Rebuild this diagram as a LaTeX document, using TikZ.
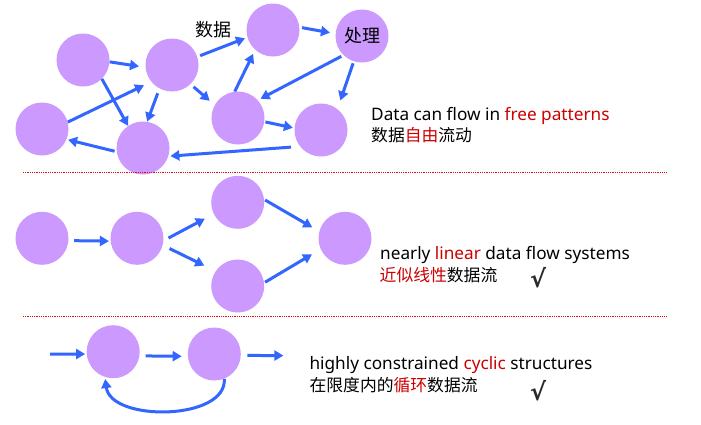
\documentclass[tikz,border=0pt]{standalone}
\usepackage{fontspec}
\setmainfont{Noto Sans}
\newfontfamily\cjk{Noto Sans CJK SC}
\newfontfamily\chkfont{DejaVu Sans Bold}
\usetikzlibrary{arrows.meta}
\definecolor{nodefill}{HTML}{CC99FF}
\definecolor{flowblue}{HTML}{3366FF}
\definecolor{txtred}{HTML}{CC0000}
\definecolor{seprred}{HTML}{E01010}
\definecolor{checkgray}{HTML}{2A2A2A}
\begin{document}
\begin{tikzpicture}[x=1pt,y=-1pt,
  ball/.style={circle, fill=nodefill, minimum size=53pt, inner sep=0pt},
  flow/.style={draw=flowblue, line width=3pt, -{Triangle[length=9pt,width=10pt]}},
  sep/.style={draw=seprred, line width=1.1pt, dash pattern=on 1pt off 0.8pt},
  entxt/.style={anchor=base west, inner sep=0pt, font=\fontsize{17.2}{20}\selectfont},
  cntxt/.style={anchor=base west, inner sep=0pt, font=\cjk\fontsize{16.8}{20}\selectfont},
  lbl/.style={inner sep=0pt, font=\cjk\fontsize{18}{20}\selectfont},
  checkmark/.style={inner sep=0pt, text=checkgray, font=\chkfont\fontsize{24}{26}\selectfont}]
\useasboundingbox (0,0) rectangle (701,424);
\fill[white] (0,0) rectangle (701,424);

% ---------- top: free patterns ----------
\node[ball] (A) at (83,60) {};
\node[ball] (B) at (172,65) {};
\node[ball] (C) at (273,30) {};
\node[ball, font=\cjk\fontsize{18}{20}\selectfont] (D) at (362,36) {处理};
\node[ball] (E) at (42,129) {};
\node[ball] (F) at (143,148) {};
\node[ball] (G) at (238,118) {};
\node[ball] (H) at (321,130) {};
\node[lbl] (datalbl) at (213.5,30) {数据};

\draw[flow, shorten >=6.5] (A.-4) -- (B.185);
\draw[flow] (A.-45) -- (F.124);
\draw[flow, shorten >=8] (E.15) -- (B.219);
\draw[flow, shorten <=5] (B.242) -- (F.81);
\draw[flow, shorten <=3, shorten >=2.5] (B.18) -- (C.196);
\draw[flow, shorten <=4, shorten >=6.5] (B.-46) -- (G.151);
\draw[flow, shorten >=4.5] (G.97) -- (C.228);
\draw[flow, shorten <=2.5, shorten >=5.5] (C.6) -- (D.175);
\draw[flow, shorten <=2.5, shorten >=3] (D.226) -- (G.42);
\draw[flow, shorten <=2, shorten >=9] (D.252) -- (H.52);
\draw[flow, shorten <=1, shorten >=1.5] (G.-8) -- (H.176);
\draw[flow, shorten <=2, shorten >=1.5] (F.188) -- (E.-23);
\draw[flow, shorten <=9, shorten >=2] (H.218) -- (F.-18);

\node[entxt] (t1) at (371,120) {Data can flow in \textcolor{txtred}{free patterns}};
\node[cntxt] (t1c) at (371,141.5) {数据\textcolor{txtred}{自由}流动};

\coordinate (s1a) at (23,172.5);
\coordinate (s1b) at (667,172.5);
\draw[sep] (s1a) -- (s1b);

% ---------- middle: nearly linear ----------
\node[ball] (M1) at (42,238.3) {};
\node[ball] (M2) at (137,238.3) {};
\node[ball] (M3) at (237.7,202.3) {};
\node[ball] (M4) at (237.7,286) {};
\node[ball] (M5) at (345,238.3) {};

\draw[flow, shorten <=5.5, shorten >=1.5] (M1.-5) -- (M2.186);
\draw[flow, shorten <=5.5, shorten >=10] (M2.-5) -- (M3.206);
\draw[flow, shorten <=7.5, shorten >=12.5] (M2.-15) -- (M4.146);
\draw[flow, shorten <=1, shorten >=8] (M3.6) -- (M5.165);
\draw[flow, shorten <=1, shorten >=10] (M4.7) -- (M5.204);

\node[entxt] (t2) at (380,259.3) {nearly \textcolor{txtred}{linear} data flow systems};
\node[cntxt] (t2c) at (379.5,281) {\textcolor{txtred}{近似线性}数据流};
\node[checkmark] (ck2) at (538,278) {√};

\coordinate (s2a) at (23,316.5);
\coordinate (s2b) at (667,316.5);
\draw[sep] (s2a) -- (s2b);

% ---------- bottom: cyclic ----------
\node[ball] (L1) at (113.2,351.7) {};
\node[ball] (L2) at (214.3,354) {};
\coordinate (in) at (50,354);
\coordinate (out) at (283.4,355.6);

\draw[flow, shorten >=1.5] (in) -- (L1.185);
\draw[flow, shorten <=6, shorten >=6] (L1.-9) -- (L2.185);
\draw[flow, shorten <=6.5] (L2.-3.5) -- (out);
\draw[flow, shorten >=2] (L2.-68) .. controls +(3,42) and +(6,45) .. (L1.252);

\node[entxt] (t3) at (309.4,369.3) {highly constrained \textcolor{txtred}{cyclic} structures};
\node[cntxt] (t3c) at (309.4,391) {在限度内的\textcolor{txtred}{循环}数据流};
\node[checkmark] (ck3) at (538,391) {√};
\end{tikzpicture}
\end{document}
